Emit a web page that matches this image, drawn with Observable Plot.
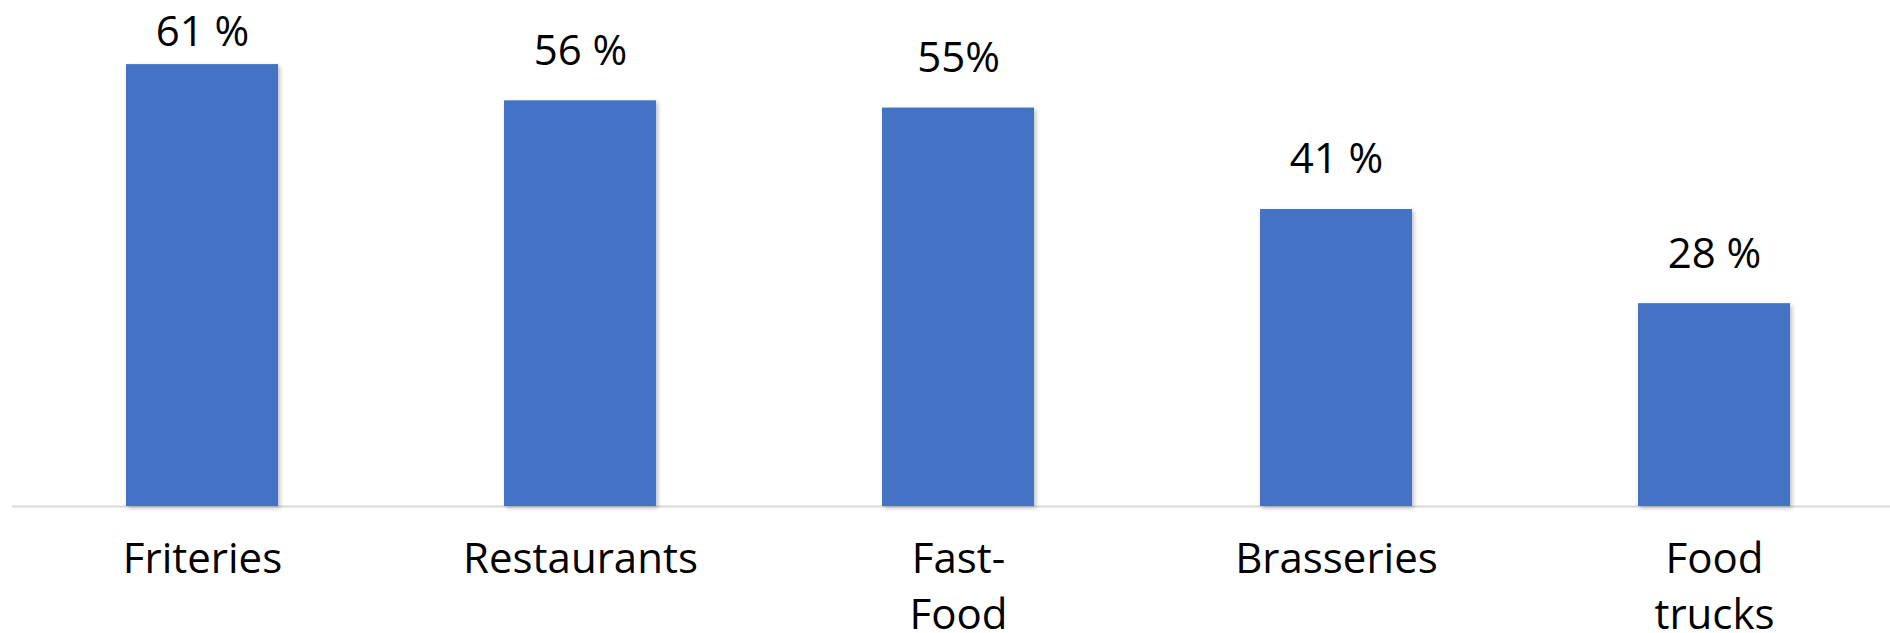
<!DOCTYPE html>
<html>
<head>
<meta charset="utf-8">
<script src="https://cdn.jsdelivr.net/npm/d3@7"></script>
<script src="https://cdn.jsdelivr.net/npm/@observablehq/plot@0.6"></script>
<style>
  html, body { margin: 0; padding: 0; background: #ffffff; }
  #chart { width: 1890px; height: 633px; overflow: hidden; }
  svg { display: block; }
  g[aria-label="bar"] rect { filter: drop-shadow(2px 2px 2px rgba(0,0,0,0.25)); }
</style>
</head>
<body>
<div id="chart"></div>
<script>
const categories = ["Friteries", "Restaurants", "Fast-Food", "Brasseries", "Food trucks"];
const categoryLabels = ["Friteries", "Restaurants", "Fast-\nFood", "Brasseries", "Food\ntrucks"];
const values = [61, 56, 55, 41, 28];
const valueLabels = ["61 %", "56 %", "55%", "41 %", "28 %"];

const data = categories.map((c, i) => ({
  category: c,
  label: categoryLabels[i],
  value: values[i],
  valueLabel: valueLabels[i]
}));

const yMax = 69.85;
const font = "'Open Sans', sans-serif";

const chart = Plot.plot({
  width: 1890,
  height: 633,
  marginTop: 0,
  marginBottom: 127,
  marginLeft: 12,
  marginRight: 0,
  style: { background: "transparent", fontFamily: font },
  x: { domain: categories, range: [13, 1903], paddingInner: 0.598, paddingOuter: 0.299, align: 0.5, axis: null },
  y: { domain: [0, yMax], axis: null },
  marks: [
    Plot.ruleY([0], { stroke: "#d9d9d9", strokeWidth: 2 }),
    Plot.barY(data, { x: "category", y: "value", fill: "#4472C4" }),
    Plot.text(data, {
      x: "category",
      y: d => Math.min(d.value + 4.97, 63.6),
      text: "valueLabel",
      lineAnchor: "bottom",
      fontSize: 42,
      fill: "#000000"
    }),
    Plot.text(data, {
      x: "category",
      y: () => 0,
      text: "label",
      lineAnchor: "top",
      dy: 26,
      lineHeight: 1.35,
      fontSize: 42,
      fill: "#000000"
    })
  ]
});

document.getElementById("chart").appendChild(chart);
</script>
</body>
</html>
